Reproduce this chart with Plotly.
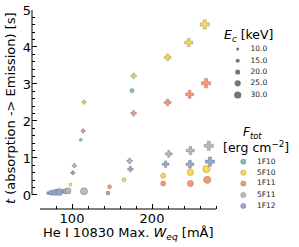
import plotly.graph_objects as go

# ---------------- data ----------------
ec_levels = [10, 15, 20, 25, 30]
flux_labels = ["1F10", "5F10", "1F11", "5F11", "1F12"]

# circle-marker runs
circ_ec_1F10 = [10, 15]
circ_x_1F10 = [111, 175]
circ_y_1F10 = [1.49, 2.82]

circ_ec_5F10 = [10, 15, 20, 25, 30]
circ_x_5F10 = [98, 165, 214, 248, 268]
circ_y_5F10 = [0.28, 0.41, 0.52, 0.61, 0.70]

circ_ec_1F11 = [10, 15, 20, 25, 30]
circ_x_1F11 = [91, 147, 214, 248, 269]
circ_y_1F11 = [0.10, 0.22, 0.31, 0.31, 0.41]

circ_ec_5F11 = [10, 15, 20, 25, 30]
circ_x_5F11 = [86, 89, 92, 95, 115]
circ_y_5F11 = [0.09, 0.10, 0.10, 0.11, 0.10]

circ_ec_1F12 = [10, 15, 20, 25, 30]
circ_x_1F12 = [70, 145, 74, 79, 84]
circ_y_1F12 = [0.05, 0.05, 0.06, 0.07, 0.08]

# plus-marker runs
plus_ec_5F10 = [10, 15, 20, 25, 30]
plus_x_5F10 = [115, 177, 219.6, 246, 266]
plus_y_5F10 = [2.51, 3.22, 3.72, 4.12, 4.61]

plus_ec_1F11 = [10, 15, 20, 25, 30]
plus_x_1F11 = [114, 177, 219.6, 247, 267.5]
plus_y_1F11 = [1.73, 2.21, 2.50, 2.72, 3.02]

plus_ec_5F11 = [10, 15, 20, 25, 30]
plus_x_5F11 = [103, 172, 221, 248, 271]
plus_y_5F11 = [0.79, 0.92, 1.11, 1.20, 1.33]

plus_ec_1F12 = [10, 15, 20, 25, 30]
plus_x_1F12 = [101, 173, 217, 247.5, 272.5]
plus_y_1F12 = [0.60, 0.70, 0.83, 0.83, 0.90]

x_major_ticks = [100, 200]
y_major_ticks = [0, 1, 2, 3, 4, 5]

# ---------------- style ----------------
palette = {"1F10": "#66c2a5", "5F10": "#ffd92f", "1F11": "#fc8d62",
           "5F11": "#b3b3b3", "1F12": "#8da0cb"}
FONT = "DejaVu Sans"


def msize(e):
    return 0.9 + 0.21 * e


edge = dict(color="rgba(70,70,70,0.55)", width=0.6)

fig = go.Figure()

circle_runs = [("1F10", circ_ec_1F10, circ_x_1F10, circ_y_1F10),
               ("5F10", circ_ec_5F10, circ_x_5F10, circ_y_5F10),
               ("1F11", circ_ec_1F11, circ_x_1F11, circ_y_1F11),
               ("5F11", circ_ec_5F11, circ_x_5F11, circ_y_5F11),
               ("1F12", circ_ec_1F12, circ_x_1F12, circ_y_1F12)]
plus_runs = [("5F10", plus_ec_5F10, plus_x_5F10, plus_y_5F10),
             ("1F11", plus_ec_1F11, plus_x_1F11, plus_y_1F11),
             ("5F11", plus_ec_5F11, plus_x_5F11, plus_y_5F11),
             ("1F12", plus_ec_1F12, plus_x_1F12, plus_y_1F12)]

for name, ec, xs, ys in circle_runs:
    fig.add_trace(go.Scatter(
        x=xs, y=ys, mode="markers", showlegend=False, cliponaxis=False,
        marker=dict(symbol="circle", size=[msize(e) for e in ec],
                    color=palette[name], opacity=0.9, line=edge)))

for name, ec, xs, ys in plus_runs:
    fig.add_trace(go.Scatter(
        x=xs, y=ys, mode="markers", showlegend=False, cliponaxis=False,
        marker=dict(symbol="cross", size=[msize(e) + 0.5 for e in ec],
                    color=palette[name], opacity=0.9, line=edge)))

# ----- legend panel drawn on an auxiliary axis (pixel-like units) -----
W, H = 299, 247
L = 32
plot_w = W - L
x_dom_end = (224 - L) / plot_w
ec_row_y = [49, 60.7, 72, 83.3, 95]
flux_row_y = [161.7, 172.7, 183.5, 195, 206]

fig.add_trace(go.Scatter(
    x=[237.7] * len(ec_levels), y=ec_row_y, mode="markers", showlegend=False,
    xaxis="x2", yaxis="y2", cliponaxis=False,
    marker=dict(size=[msize(e) for e in ec_levels], color="#3a3a3a", line=dict(width=0))))
fig.add_trace(go.Scatter(
    x=[250.5] * len(ec_levels), y=ec_row_y, mode="text", showlegend=False,
    xaxis="x2", yaxis="y2", cliponaxis=False,
    text=[f"{e:.1f}" for e in ec_levels], textposition="middle right",
    textfont=dict(family=FONT, size=7.5, color="#222")))
fig.add_trace(go.Scatter(
    x=[243.3] * len(flux_labels), y=flux_row_y, mode="markers", showlegend=False,
    xaxis="x2", yaxis="y2", cliponaxis=False,
    marker=dict(size=5.2, color=[palette[f] for f in flux_labels], opacity=0.9, line=edge)))
fig.add_trace(go.Scatter(
    x=[257] * len(flux_labels), y=flux_row_y, mode="text", showlegend=False,
    xaxis="x2", yaxis="y2", cliponaxis=False,
    text=flux_labels, textposition="middle right",
    textfont=dict(family=FONT, size=7.5, color="#222")))

y_bot = (H - 209) / H
y_top = (H - 10) / H

fig.update_layout(
    width=W, height=H,
    margin=dict(l=L, r=0, t=0, b=0, pad=0),
    paper_bgcolor="white", plot_bgcolor="white",
    font=dict(family=FONT, color="black"),
    xaxis=dict(domain=[0, x_dom_end], range=[50, 290], showgrid=False, zeroline=False,
               showline=False, tickmode="array", tickvals=x_major_ticks,
               ticks="inside", ticklen=5, tickwidth=1, tickcolor="black",
               tickfont=dict(size=13), automargin=False,
               minor=dict(tickmode="array",
                          tickvals=[v for v in range(80, 281, 20) if v not in x_major_ticks],
                          ticks="inside", ticklen=3, tickwidth=1, tickcolor="black",
                          showgrid=False)),
    yaxis=dict(domain=[y_bot, y_top], range=[-0.38, 5.0], showgrid=False, zeroline=False,
               showline=False, tickmode="array", tickvals=y_major_ticks,
               ticks="inside", ticklen=5, tickwidth=1, tickcolor="black",
               tickfont=dict(size=13), automargin=False,
               minor=dict(tickmode="array",
                          tickvals=[round(0.2 * i, 1) for i in range(1, 25) if i % 5],
                          ticks="inside", ticklen=3, tickwidth=1, tickcolor="black",
                          showgrid=False)),
    xaxis2=dict(domain=[x_dom_end, 1], range=[224, 299], visible=False, anchor="y2"),
    yaxis2=dict(domain=[0, 1], range=[247, 0], visible=False, anchor="x2"),
    shapes=[
        dict(type="line", xref="x", yref="paper", x0=60, x1=280, y0=y_bot, y1=y_bot,
             line=dict(color="black", width=1)),
        dict(type="line", xref="paper", yref="y", x0=0, x1=0, y0=0, y1=5,
             line=dict(color="black", width=1)),
    ],
    annotations=[
        dict(text="He I 10830 Max. <i>W<sub>eq</sub></i> [mÅ]", xref="paper", yref="paper",
             x=x_dom_end / 2, y=(H - 233) / H, showarrow=False, xanchor="center",
             yanchor="middle", font=dict(size=13)),
        dict(text="<i>t</i> (absorption -> Emission) [s]", xref="paper", yref="paper",
             x=(10 - L) / plot_w, y=(H - 108) / H, showarrow=False, textangle=-90,
             xanchor="center", yanchor="middle", font=dict(size=13)),
        dict(text="<i>E<sub>c</sub></i> [keV]", xref="x2", yref="y2", x=248, y=35,
             showarrow=False, xanchor="center", yanchor="middle", font=dict(size=12.5)),
        dict(text="<i>F<sub>tot</sub></i>", xref="x2", yref="y2", x=252, y=133,
             showarrow=False, xanchor="center", yanchor="middle", font=dict(size=12)),
        dict(text="[erg cm<sup>−2</sup>]", xref="x2", yref="y2", x=256, y=147,
             showarrow=False, xanchor="center", yanchor="middle", font=dict(size=12.5)),
    ],
)

fig.write_html("out.html", config={"displayModeBar": False, "staticPlot": True},
               post_script="document.body.style.margin='0px';")
